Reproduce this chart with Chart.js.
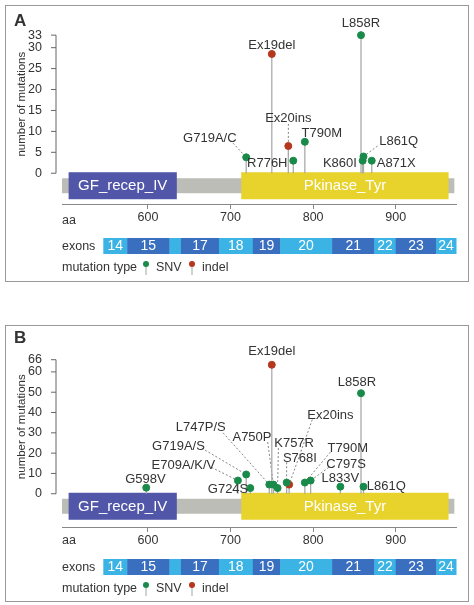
<!DOCTYPE html>
<html><head><meta charset="utf-8">
<script src="https://cdn.jsdelivr.net/npm/chart.js@4"></script>
<style>
body{margin:0;background:#fff;font-family:"Liberation Sans",Arial,sans-serif;}
.box{position:absolute;left:5px;width:462px;height:275px;border:1px solid #999;}
.box canvas{position:absolute;left:0;top:0;}
</style></head><body>
<div class="box" id="boxA" style="top:5px"><canvas id="cA"></canvas></div>
<div class="box" id="boxB" style="top:325px"><canvas id="cB"></canvas></div>
<script>
// ---- shared track data ----
const protein = [496, 971];
const domainNames = ["GF_recep_IV", "Pkinase_Tyr"];
const domainStart = [504, 713];
const domainEnd = [635, 964];
const exonNames = ["14","15","","17","18","19","20","21","22","23","24"];
const exonStart = [546,575,626,640,686,727,760,823,874,900,949];
const exonEnd   = [575,626,640,686,727,760,823,874,900,949,973];
const aaTicks = [600,700,800,900];

// ---- panel A ----
const mutA = ["G719A/C","Ex19del","Ex20ins","R776H","T790M","L858R","K860I","L861Q","A871X"];
const posA = [719,750,770,776,790,858,860,861,871];
const cntA = [3.8,28.5,6.5,3,7.5,33,3,4,3];
const typeA = ["SNV","indel","indel","SNV","SNV","SNV","SNV","SNV","SNV"];
const labXA = [675,750,770,769,786,858,853,880,877];
const labYA = [8.3,30.5,13.1,2.4,9.5,35.8,2.4,7.6,2.4];
const alignA = ["center","center","center","right","left","center","right","left","left"];
const leadXA = [703,null,770,null,null,null,null,878,null];
const leadYA = [7.2,null,11.8,null,null,null,null,6.5,null];
const yTicksA = [0,5,10,15,20,25,30,33];

// ---- panel B ----
const mutB = ["G598V","E709A/K/V","G719A/S","G724S","L747P/S","A750P","Ex19del","K757R","S768I","Ex20ins","T790M","C797S","L833V","L858R","L861Q"];
const posB = [598,709,719,724,747,752,750,757,768,771,790,797,833,858,861];
const cntB = [3,6.5,9.5,2.8,4.5,4.5,63.5,2.8,5.5,4.5,5.5,6.5,3.5,49.5,3.5];
const typeB = ["SNV","SNV","SNV","SNV","SNV","SNV","indel","SNV","SNV","indel","SNV","SNV","SNV","SNV","SNV"];
const labXB = [597,643,637,697,664,726,750,777,784,821,842,840,833,853,865];
const labYB = [7,14,23.3,1.9,32.7,27.5,70,24.7,17.6,38.8,22.3,14.5,7.5,54.7,3.6];
const alignB = ["center","center","center","center","center","center","center","center","center","center","center","center","center","center","left"];
const leadXB = [null,677,665,null,691,745,null,758,768,799,821,819,null,null,null];
const leadYB = [null,13,22.5,null,30,25.5,null,22.5,15.5,36.5,20.5,13,null,null,null];
const yTicksB = [0,10,20,30,40,50,60,66];

const GREEN="#1a8a4a", RED="#b5371e", LIGHT="#3bb4e5", DARK="#3a6fc0", TXT="#333";
const FONT="'Liberation Sans', Arial";

function makePanel(id, letter, mut, pos, cnt, type, labX, labY, align, leadX, leadY, yTicks, yMin, yMax, axisAt, padTop, padBottom, letterY){
  const pts = (t)=>pos.map((p,i)=>type[i]===t?{x:p,y:cnt[i]}:null).filter(Boolean);
  const plugin = {
    id:'track'+letter,
    beforeDatasetsDraw(chart){
      const c=chart.ctx, x=chart.scales.x, y=chart.scales.y, y0=y.getPixelForValue(0), ca=chart.chartArea;
      c.save();
      c.fillStyle="#bdbdb8";
      c.fillRect(x.getPixelForValue(protein[0]), y0+5, x.getPixelForValue(protein[1])-x.getPixelForValue(protein[0]), 15);
      domainNames.forEach((n,i)=>{
        const a=x.getPixelForValue(domainStart[i]), b=x.getPixelForValue(domainEnd[i]);
        c.fillStyle=i===0?"#5156a8":"#e8d22c";
        c.fillRect(a,y0-1,b-a,27);
        c.fillStyle="#fff"; c.font="15px "+FONT; c.textAlign="center"; c.textBaseline="middle";
        c.fillText(n,(a+b)/2,y0+13);
      });
      const ey=ca.bottom-16;
      exonNames.forEach((n,i)=>{
        const a=x.getPixelForValue(exonStart[i]), b=x.getPixelForValue(exonEnd[i]);
        c.fillStyle=i%2===0?LIGHT:DARK;
        c.fillRect(a,ey,b-a+0.5,16);
        c.fillStyle="#fff"; c.font="14px "+FONT; c.textAlign="center"; c.textBaseline="middle";
        c.fillText(n,(a+b)/2,ey+8.5);
      });
      c.fillStyle=TXT; c.font="12.5px "+FONT; c.textAlign="left"; c.textBaseline="middle";
      c.fillText("exons",ca.left,ey+9);
      c.fillText("aa",ca.left,y0+47);
      const ly=ca.bottom+14;
      c.fillText("mutation type",ca.left,ly);
      [[GREEN,"SNV",140],[RED,"indel",186]].forEach(([col,t,px])=>{
        c.strokeStyle="#9a9"; c.lineWidth=1; c.beginPath(); c.moveTo(px,ly-3); c.lineTo(px,ly+7); c.stroke();
        c.fillStyle=col; c.beginPath(); c.arc(px,ly-4,3,0,7); c.fill();
        c.fillStyle=TXT; c.fillText(t,px+10,ly);
      });
      c.font="bold 17px "+FONT; c.fillText(letter,8,letterY);
      // y axis line + ticks
      const ax=ca.left-6;
      const yTop=y.getPixelForValue(yTicks[yTicks.length-1]);
      c.strokeStyle="#666"; c.lineWidth=1;
      c.beginPath(); c.moveTo(ax,y0); c.lineTo(ax,yTop); c.stroke();
      yTicks.forEach(t=>{const py=y.getPixelForValue(t); c.beginPath(); c.moveTo(ax-5,py); c.lineTo(ax,py); c.stroke();});
      // y title
      c.save(); c.translate(16,(y0+yTop)/2); c.rotate(-Math.PI/2);
      c.fillStyle=TXT; c.font="11.5px "+FONT; c.textAlign="center"; c.fillText("number of mutations",0,0); c.restore();
      // stems & leaders
      pos.forEach((p,i)=>{
        const px=x.getPixelForValue(p), py=y.getPixelForValue(cnt[i]);
        c.strokeStyle="#aaa"; c.lineWidth=1.3; c.setLineDash([]);
        c.beginPath(); c.moveTo(px,y0); c.lineTo(px,py); c.stroke();
        if(leadX[i]!==null){
          c.strokeStyle="#777"; c.lineWidth=0.9; c.setLineDash([2,2]);
          c.beginPath(); c.moveTo(x.getPixelForValue(leadX[i]),y.getPixelForValue(leadY[i])); c.lineTo(px,py); c.stroke();
        }
      });
      c.setLineDash([]);
      c.restore();
    },
    afterDatasetsDraw(chart){
      const c=chart.ctx, x=chart.scales.x, y=chart.scales.y;
      c.save(); c.fillStyle=TXT; c.font="13px "+FONT; c.textBaseline="middle";
      mut.forEach((m,i)=>{ c.textAlign=align[i]; c.fillText(m,x.getPixelForValue(labX[i]),y.getPixelForValue(labY[i])); });
      c.restore();
    }
  };
  return new Chart(document.getElementById(id),{
    type:'scatter',
    data:{datasets:[
      {label:'SNV',data:pts("SNV"),backgroundColor:GREEN,borderColor:GREEN,pointRadius:3.5},
      {label:'indel',data:pts("indel"),backgroundColor:RED,borderColor:RED,pointRadius:3.5}
    ]},
    options:{
      responsive:true, maintainAspectRatio:false, animation:false,
      layout:{padding:{top:padTop,bottom:padBottom,right:12,left:0}},
      plugins:{legend:{display:false},tooltip:{enabled:false}},
      scales:{
        x:{type:'linear',min:496,max:973,position:{y:axisAt},
           afterBuildTicks:s=>{s.ticks=aaTicks.map(v=>({value:v}));},
           grid:{drawOnChartArea:false,drawTicks:true,tickLength:4,color:"#888"},
           border:{display:true,color:"#888"},
           ticks:{color:TXT,font:{size:12.5,family:FONT},padding:2}},
        y:{min:yMin,max:yMax,
           afterBuildTicks:s=>{s.ticks=yTicks.map(v=>({value:v}));},
           afterFit:s=>{s.width=56;},
           grid:{display:false}, border:{display:false},
           ticks:{color:TXT,font:{size:12.5,family:FONT},padding:12}}
      }
    },
    plugins:[plugin]
  });
}
makePanel("cA","A",mutA,posA,cntA,typeA,labXA,labYA,alignA,leadXA,leadYA,yTicksA,-19.3,35.3,-7.4,19,27,15);
makePanel("cB","B",mutB,posB,cntB,typeB,labXB,labYB,alignB,leadXB,leadYB,yTicksB,-40,73,-16.5,9,26,12);
</script></body></html>
